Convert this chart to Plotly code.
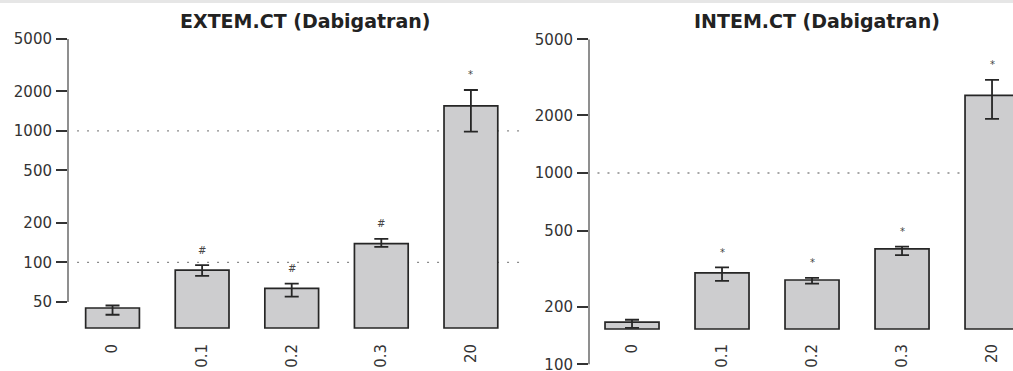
import math
import plotly.graph_objects as go

W, H = 1013, 371

categories = ["0", "0.1", "0.2", "0.3", "20"]

extem_values = [45, 87.5, 63.5, 139, 1550]
extem_upper = [47, 95.5, 69, 151, 2046]
extem_lower = [40, 79, 55, 131, 986]
extem_marks = ["", "#", "#", "#", "*"]

intem_values = [166, 301, 276, 401, 2550]
intem_upper = [171, 321, 283, 412, 3070]
intem_lower = [155, 273, 264, 372, 1920]
intem_marks = ["", "*", "*", "*", "*"]

extem_ticks = [50, 100, 200, 500, 1000, 2000, 5000]
intem_ticks = [100, 200, 500, 1000, 2000, 5000]
extem_refs = [100, 1000]
intem_refs = [1000]

EXTEM_BASE = 31.7
INTEM_BASE = 153

FONT = "DejaVu Sans"
BAR_FILL = "#cdcdcf"
DARK = "#262626"


def px_x(p):
    return p / W


def px_y(p):
    return 1 - p / H


fig = go.Figure()

panels = [
    dict(vals=extem_values, up=extem_upper, lo=extem_lower, marks=extem_marks,
         base=EXTEM_BASE, xa="x", ya="y"),
    dict(vals=intem_values, up=intem_upper, lo=intem_lower, marks=intem_marks,
         base=INTEM_BASE, xa="x2", ya="y2"),
]

for p in panels:
    fig.add_trace(go.Bar(
        x=categories,
        y=[v - p["base"] for v in p["vals"]],
        base=p["base"],
        width=0.6,
        marker=dict(color=BAR_FILL, line=dict(color=DARK, width=1.7)),
        xaxis=p["xa"], yaxis=p["ya"], showlegend=False, hoverinfo="skip",
    ))
    fig.add_trace(go.Scatter(
        x=categories, y=p["vals"], mode="markers",
        marker=dict(size=1, opacity=0),
        error_y=dict(type="data", symmetric=False,
                     array=[u - v for u, v in zip(p["up"], p["vals"])],
                     arrayminus=[v - l for v, l in zip(p["vals"], p["lo"])],
                     color=DARK, thickness=1.8, width=7),
        xaxis=p["xa"], yaxis=p["ya"], showlegend=False, hoverinfo="skip",
    ))
    for i, (u, m) in enumerate(zip(p["up"], p["marks"])):
        if m:
            fig.add_annotation(x=i, y=math.log10(u), xref=p["xa"], yref=p["ya"],
                               text=m, showarrow=False, yshift=15,
                               xanchor="center", yanchor="middle",
                               font=dict(family=FONT, size=10, color="#444"))

# reference dotted lines
for r in extem_refs:
    fig.add_shape(type="line", xref="x domain", x0=0.02, x1=1, yref="y", y0=r, y1=r,
                  line=dict(color="#8a8a8a", width=1.4, dash="2px,8px"), layer="below")
for r in intem_refs:
    fig.add_shape(type="line", xref="x2 domain", x0=0.02, x1=1, yref="y2", y0=r, y1=r,
                  line=dict(color="#8a8a8a", width=1.4, dash="2px,8px"), layer="below")

# R-style axis lines spanning the tick range
fig.add_shape(type="line", xref="x domain", x0=0, x1=0, yref="y",
              y0=min(extem_ticks), y1=max(extem_ticks), line=dict(color="#6a6a6a", width=1.5))
fig.add_shape(type="line", xref="x2 domain", x0=0, x1=0, yref="y2",
              y0=min(intem_ticks), y1=max(intem_ticks), line=dict(color="#6a6a6a", width=1.5))

# top strip
fig.add_shape(type="rect", xref="paper", yref="paper", x0=0, x1=1, y0=px_y(3), y1=1,
              fillcolor="#e6e6e6", line=dict(width=0), layer="below")

# titles
fig.add_annotation(x=px_x(305), y=px_y(21), xref="paper", yref="paper",
                   text="<b>EXTEM.CT (Dabigatran)</b>", showarrow=False,
                   xanchor="center", yanchor="middle",
                   font=dict(family=FONT, size=19, color="#222"))
fig.add_annotation(x=px_x(817), y=px_y(21), xref="paper", yref="paper",
                   text="<b>INTEM.CT (Dabigatran)</b>", showarrow=False,
                   xanchor="center", yanchor="middle",
                   font=dict(family=FONT, size=19, color="#222"))

tickfont = dict(family=FONT, size=15, color="#333")

xcommon = dict(type="category", showline=False, ticks="", showgrid=False, zeroline=False,
               tickangle=-90, tickfont=tickfont, ticklabelstandoff=10, automargin=False,
               ticklabeloverflow="allow", fixedrange=True)
ycommon = dict(type="log", showline=False, ticks="outside", ticklen=11, tickwidth=1.5,
               tickcolor="#333", showgrid=False, zeroline=False, tickfont=tickfont,
               ticklabelstandoff=1, automargin=False, ticklabeloverflow="allow")

fig.update_layout(
    width=W, height=H,
    margin=dict(l=0, r=0, t=0, b=0, autoexpand=False),
    paper_bgcolor="white", plot_bgcolor="white",
    bargap=0.4,
    xaxis=dict(domain=[px_x(68), px_x(520)], range=[-0.497, 4.548], anchor="y", **xcommon),
    yaxis=dict(domain=[px_y(330), px_y(30)], range=[1.486, 3.767], anchor="x",
               tickvals=extem_ticks, ticktext=[str(t) for t in extem_ticks], **ycommon),
    xaxis2=dict(domain=[px_x(589), 1.0], range=[-0.478, 4.233], anchor="free",
                position=px_y(330), **xcommon),
    yaxis2=dict(domain=[0.0, px_y(30)], range=[1.965, 3.748], anchor="x2",
                tickvals=intem_ticks, ticktext=[str(t) for t in intem_ticks], **ycommon),
)

fig.write_html("out.html", config={"displayModeBar": False},
               post_script="document.body.style.margin='0';document.body.style.overflow='hidden';")
